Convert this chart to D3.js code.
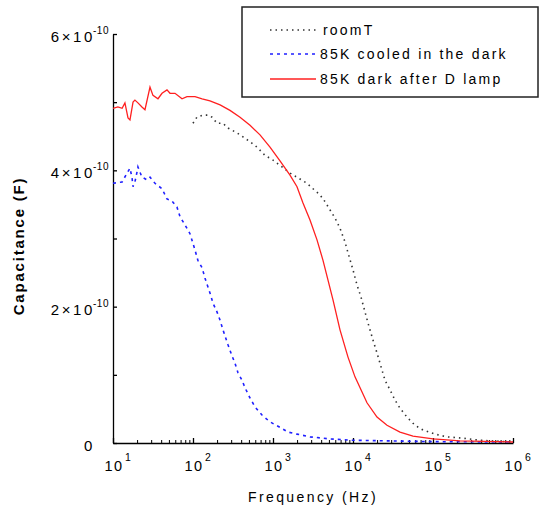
<!DOCTYPE html>
<html>
<head>
<meta charset="utf-8">
<script src="https://cdn.jsdelivr.net/npm/d3@7"></script>
<style>
body { margin: 0; background: #fff; }
text { font-family: "Liberation Sans", Arial, sans-serif; fill: #000; }
</style>
</head>
<body>
<div id="chart"></div>
<script>
// values, capacitance in units of 1e-10 F
const seriesNames = ["roomT", "85K cooled in the dark", "85K dark after D lamp"];

const roomTFreq = [100, 112, 133, 154, 173, 200, 237, 274, 355, 422, 516, 631, 794, 1000, 1296, 1631,
    2054, 2661, 3162, 3868, 4467, 5158, 5957, 6879, 7943, 8660, 10000, 11220, 12590, 15400, 17780,
    19950, 25120, 29000, 33500, 38680, 47320, 59570, 74990, 105900, 149600, 237100, 386800, 1000000];
const roomTCap = [4.69, 4.78, 4.81, 4.81, 4.78, 4.69, 4.69, 4.62, 4.55, 4.49, 4.42, 4.34, 4.22, 4.15, 4.05, 3.96,
    3.89, 3.81, 3.73, 3.64, 3.54, 3.42, 3.30, 3.15, 2.95, 2.79, 2.54, 2.32, 2.14, 1.76, 1.51,
    1.32, 0.92, 0.78, 0.63, 0.51, 0.38, 0.26, 0.19, 0.13, 0.09, 0.07, 0.04, 0.015];

const darkFreq = [10, 13.0, 15.0, 16.3, 17.3, 17.8, 18.8, 20.0, 20.5, 23.0, 26.6, 29.0, 33.5, 41.0, 47.3, 54.6,
    63.1, 68.8, 79.4, 91.7, 106, 115, 130, 141, 163, 178, 200, 218, 237, 274, 307, 335, 365, 410, 447,
    516, 596, 729, 917, 1223, 1540, 1995, 2900, 5158, 10000, 31620, 100000, 1000000];
const darkCap = [3.81, 3.83, 3.96, 4.03, 3.89, 3.76, 3.83, 3.98, 4.05, 3.90, 3.86, 3.90, 3.81, 3.73, 3.58, 3.55,
    3.46, 3.32, 3.20, 3.07, 2.83, 2.68, 2.57, 2.42, 2.20, 2.05, 1.92, 1.80, 1.66, 1.44, 1.28, 1.17, 1.03, 0.92, 0.81,
    0.66, 0.53, 0.41, 0.31, 0.23, 0.16, 0.13, 0.09, 0.06, 0.04, 0.03, 0.02, 0.015];

const lampFreq = [10, 11.5, 13.0, 14.1, 15.4, 16.3, 17.8, 18.8, 20.5, 23.0, 25.1, 29.0, 31.6, 36.5, 41.0, 47.3,
    51.6, 59.6, 72.9, 84.1, 106, 130, 163, 218, 290, 387, 516, 688, 917, 1223, 1631, 1995, 2371, 2900,
    3548, 4217, 4870, 5623, 6879, 8660, 10590, 14960, 19950, 26610, 38680, 56230, 100000, 217600, 1000000];
const lampCap = [4.91, 4.93, 4.91, 4.99, 4.77, 4.74, 5.00, 5.03, 4.99, 4.93, 4.89, 5.22, 5.10, 5.05, 5.13, 5.18,
    5.13, 5.13, 5.05, 5.08, 5.08, 5.05, 5.02, 4.96, 4.88, 4.78, 4.66, 4.52, 4.34, 4.14, 3.93, 3.76, 3.52, 3.27,
    2.98, 2.68, 2.39, 2.10, 1.66, 1.26, 0.97, 0.59, 0.38, 0.26, 0.16, 0.10, 0.06, 0.03, 0.015];

const xTickExps = [1, 2, 3, 4, 5, 6];
const yTickValues = [0, 1, 2, 3, 4, 5, 6];
const yTickLabels = { 0: "0", 2: "2×10", 4: "4×10", 6: "6×10" };

const w = 539, h = 510;
const svg = d3.select("#chart").append("svg").attr("width", w).attr("height", h);

const x = d3.scaleLog().domain([10, 1e6]).range([113, 513]);
const y = d3.scaleLinear().domain([0, 6]).range([443, 34]);

// x axis, ticks point inward
const minorX = [];
for (let e = 1; e < 6; e++) for (let k = 2; k < 10; k++) minorX.push(k * Math.pow(10, e));

svg.append("g").attr("transform", "translate(0,443)")
    .call(d3.axisBottom(x).tickValues(minorX).tickSize(-3).tickFormat(""))
    .call(g => g.select(".domain").remove());
const gx = svg.append("g").attr("transform", "translate(0,443)")
    .call(d3.axisBottom(x).tickValues(xTickExps.map(e => Math.pow(10, e))).tickSize(-5).tickSizeOuter(0).tickFormat(""));
gx.selectAll("line, path").attr("stroke", "#000").attr("stroke-width", 1.3);
svg.selectAll("g line").attr("stroke", "#000");

xTickExps.forEach(e => {
    const px = x(Math.pow(10, e));
    svg.append("text").attr("x", px + 1).attr("y", 471).attr("text-anchor", "middle")
        .attr("font-size", 14.5).attr("letter-spacing", 1.5).attr("fill", "#222").text("10");
    svg.append("text").attr("x", px + 12).attr("y", 461).attr("font-size", 10.5).attr("fill", "#222").text(e);
});

// y axis
const gy = svg.append("g").attr("transform", "translate(113,0)")
    .call(d3.axisRight(y).tickValues(yTickValues).tickSize(4).tickSizeOuter(0).tickFormat(""));
gy.selectAll("line, path").attr("stroke", "#000").attr("stroke-width", 1.3);

Object.keys(yTickLabels).forEach(v => {
    const py = y(+v);
    svg.append("text").attr("x", 95).attr("y", py + 8).attr("text-anchor", "end")
        .attr("font-size", 15).attr("letter-spacing", 2.6).attr("fill", "#222").text(yTickLabels[v]);
    if (+v !== 0) {
        svg.append("text").attr("x", 93).attr("y", py).attr("font-size", 10)
            .attr("letter-spacing", 0.5).attr("fill", "#222").text("-10");
    }
});

// axis titles
svg.append("text").attr("x", 313).attr("y", 502).attr("text-anchor", "middle")
    .attr("font-size", 14).attr("letter-spacing", 2.4).attr("fill", "#222").text("Frequency (Hz)");
svg.append("text").attr("transform", "translate(24,246) rotate(-90)").attr("text-anchor", "middle")
    .attr("font-size", 15).attr("font-weight", "bold").attr("letter-spacing", 1.8).text("Capacitance (F)");

// curves
const line = d3.line().x(d => x(d[0])).y(d => y(d[1]));
const series = [
    { freq: roomTFreq, cap: roomTCap, color: "#333", dash: "1.5,4", width: 1.6 },
    { freq: darkFreq, cap: darkCap, color: "#1f1fff", dash: "3,4", width: 1.6 },
    { freq: lampFreq, cap: lampCap, color: "#ff2020", dash: null, width: 1.3 }
];

series.forEach(s => {
    svg.append("path")
        .datum(s.freq.map((f, i) => [f, s.cap[i]]))
        .attr("d", line)
        .attr("fill", "none")
        .attr("stroke", s.color)
        .attr("stroke-width", s.width)
        .attr("stroke-dasharray", s.dash);
});

// legend
svg.append("rect").attr("x", 242).attr("y", 7).attr("width", 296).attr("height", 90)
    .attr("fill", "#fff").attr("stroke", "#222").attr("stroke-width", 1.5);
series.forEach((s, i) => {
    const ly = [30, 54, 79][i];
    svg.append("line").attr("x1", 270).attr("x2", 316).attr("y1", ly).attr("y2", ly)
        .attr("stroke", s.color).attr("stroke-width", s.width).attr("stroke-dasharray", s.dash);
    svg.append("text").attr("x", i === 0 ? 323 : 320).attr("y", ly + 5)
        .attr("font-size", 14).attr("letter-spacing", 2.2).attr("fill", "#222").text(seriesNames[i]);
});
</script>
</body>
</html>
